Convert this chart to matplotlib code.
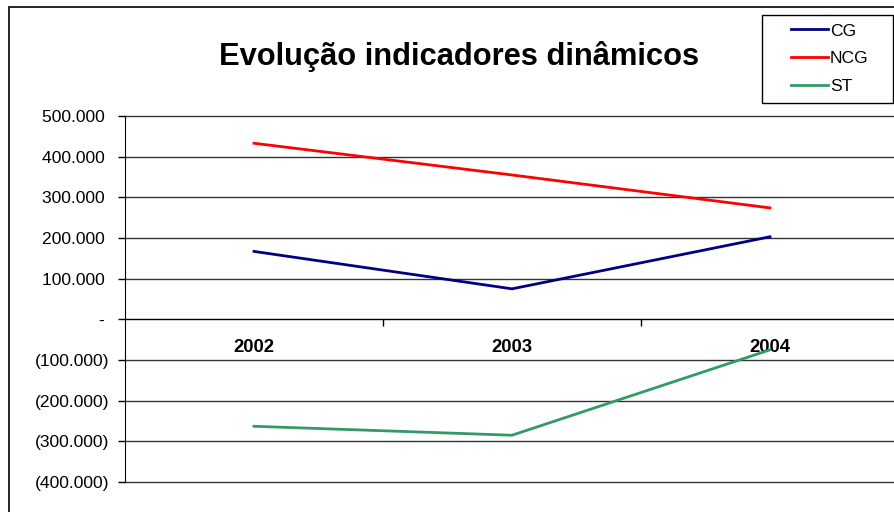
import matplotlib
matplotlib.use("Agg")
import matplotlib.pyplot as plt
import matplotlib.ticker as mticker
from matplotlib.patches import Rectangle

plt.rcParams["font.family"] = ["Liberation Sans", "DejaVu Sans"]

# data
years = ["2002", "2003", "2004"]
cg = [167000, 75000, 203000]
ncg = [433000, 355000, 274000]
st = [-263000, -285000, -75000]

series_names = ["CG", "NCG", "ST"]
series_colors = ["#000080", "#FF0000", "#339966"]
y_ticks = [500000, 400000, 300000, 200000, 100000, 0,
           -100000, -200000, -300000, -400000]

W, H = 894, 512
fig = plt.figure(figsize=(W / 100, H / 100), dpi=100)

# chart-area border (right/bottom edges fall outside the picture)
fig.patches.append(Rectangle((9 / W, -0.1), 1.2, 1 - 7 / H + 0.1,
                             transform=fig.transFigure, fill=False,
                             edgecolor="black", linewidth=1.2))

# plot area runs past the right edge of the picture, as in the original
ax = fig.add_axes([125 / W, 1 - 482 / H, (899 - 125) / W, (482 - 116) / H])

x = list(range(len(years)))
for vals, name, col in zip([cg, ncg, st], series_names, series_colors):
    ax.plot(x, vals, color=col, linewidth=2.0, label=name, zorder=3)

ax.set_xlim(-0.5, len(years) - 0.5)
ax.set_ylim(-400000, 500000)
ax.set_yticks(y_ticks)
for v in y_ticks:
    ax.axhline(v, color="#333333", linewidth=1.0, zorder=1, clip_on=False)


def excel_fmt(v, _):
    # accounting style: positives leave room for the closing bracket
    if abs(v) < 1:
        return "- "
    s = f"{abs(v):,.0f}".replace(",", ".")
    return f"({s})" if v < 0 else s + " "


ax.yaxis.set_major_formatter(mticker.FuncFormatter(excel_fmt))
ax.tick_params(axis="y", direction="out", length=5, width=1,
               labelsize=12.6, pad=6)

# category axis crosses at zero
ax.spines["bottom"].set_position(("data", 0))
ax.spines["top"].set_visible(False)
ax.spines["right"].set_visible(False)
ax.set_xticks([0.5, 1.5])
ax.set_xticklabels([])
ax.set_xticks(x, minor=True)
ax.set_xticklabels(years, minor=True, fontweight="bold", fontsize=13.3)
ax.tick_params(axis="x", which="major", direction="out", length=5, width=1)
ax.tick_params(axis="x", which="minor", length=0, pad=14)

fig.text(459 / W, 1 - 65 / H, "Evolução indicadores dinâmicos",
         ha="center", va="baseline", fontsize=22.2, fontweight="bold")

# legend
fig.patches.append(Rectangle((762 / W, 1 - 103 / H), (893 - 762) / W,
                             (103 - 15) / H, transform=fig.transFigure,
                             fill=False, edgecolor="black", linewidth=1.0))
ax.legend(loc="upper left", bbox_to_anchor=(786 / W, 1 - 18 / H),
          bbox_transform=fig.transFigure, frameon=False, fontsize=12.6,
          handlelength=2.1, handletextpad=0.1, labelspacing=0.72,
          borderaxespad=0, borderpad=0.3)

fig.savefig("out.png", dpi=100)
